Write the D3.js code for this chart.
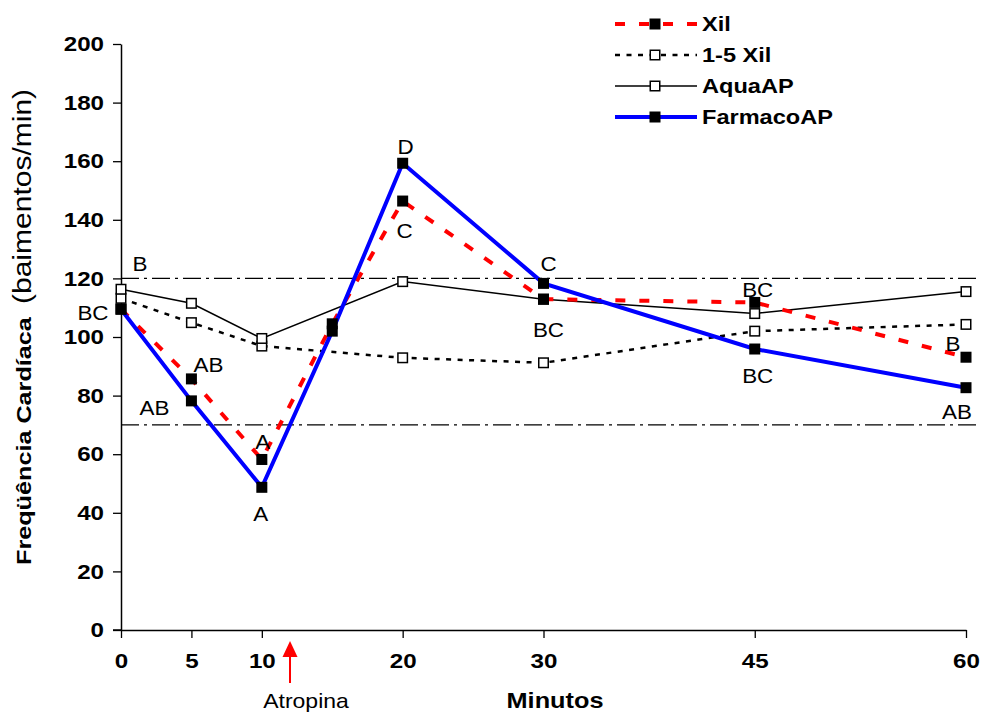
<!DOCTYPE html>
<html><head><meta charset="utf-8">
<script src="https://cdn.jsdelivr.net/npm/d3@7"></script>
<style>
body{margin:0;background:#fff;}
svg{display:block;font-family:"Liberation Sans",Arial,Helvetica,sans-serif;}
</style></head><body>
<svg id="chart" width="983" height="713"></svg>
<script>
// Heart rate (beats/min) over time for each treatment group
const minutes = [0, 5, 10, 15, 20, 30, 45, 60];
const xTickValues = [0, 5, 10, 20, 30, 45, 60];
const yTickValues = [0, 20, 40, 60, 80, 100, 120, 140, 160, 180, 200];
const xilValues = [109.5, 85.7, 58.2, 104.5, 146.4, 112.9, 111.8, 93.1];
const xil15Values = [113.2, 104.9, 96.9, null, 92.9, 91.2, 102.0, 104.3];
const aquaValues = [116.3, 111.5, 99.5, null, 118.9, 112.9, 108.0, 115.5];
const farmacoValues = [109.5, 78.2, 48.7, 102.0, 159.3, 118.3, 95.9, 82.7];
const referenceLevels = [120, 70];
const seriesNames = ["Xil", "1-5 Xil", "AquaAP", "FarmacoAP"];
// significance letters for the two drug groups
const xilLetters = ["BC", "AB", "A", "", "C", "BC", "BC", "B"];
const farmacoLetters = ["B", "AB", "A", "", "D", "C", "BC", "AB"];
const atropineMinute = 12;

// label placement around each point (pixels)
const xilLetterOffsets = [[-28, 4], [17, -14], [1, -18], [0, 0], [2, 30], [5, 31], [3, -12], [-13, -13]];
const farmacoLetterOffsets = [[19, -45], [-37, 7], [-1, 27], [0, 0], [3, -16], [5, -19], [3, 27], [-9, 24]];

const SX = 1.15; // horizontal text stretch
const svg = d3.select("#chart");
const x = d3.scaleLinear().domain([0, 60]).range([121, 966]);
const y = d3.scaleLinear().domain([0, 200]).range([630, 44]);

function stretchText(sel) {
  sel.each(function () {
    const t = d3.select(this);
    const tx = +t.attr("x") || 0, ty = +t.attr("y") || 0;
    t.attr("x", null).attr("y", null)
     .attr("transform", `translate(${tx},${ty}) scale(${SX},1)`);
  });
}

// reference levels
svg.append("g").selectAll("line").data(referenceLevels).join("line")
  .attr("x1", x(0)).attr("x2", 978)
  .attr("y1", d => y(d)).attr("y2", d => y(d))
  .attr("stroke", "#000").attr("stroke-width", 1.3)
  .attr("stroke-dasharray", "18,5,3,5");

// axes
const yAxis = svg.append("g").attr("transform", `translate(${x(0)},0)`)
  .call(d3.axisLeft(y).tickValues(yTickValues).tickSize(8).tickSizeOuter(0).tickPadding(9));
const xAxis = svg.append("g").attr("transform", `translate(0,${y(0)})`)
  .call(d3.axisBottom(x).tickValues(xTickValues).tickSize(8).tickSizeOuter(0).tickPadding(15));
[yAxis, xAxis].forEach(a => {
  a.selectAll("path.domain").attr("stroke", "#000").attr("stroke-width", 1.5);
  a.selectAll(".tick line").attr("stroke", "#000").attr("stroke-width", 1.3);
  a.selectAll(".tick text").attr("fill", "#000").attr("font-size", 21).attr("font-weight", "bold")
    .attr("font-family", '"Liberation Sans",Arial,sans-serif').call(stretchText);
});
// extend x axis line left to meet the y tick
xAxis.append("line").attr("x1", x(0) - 8).attr("x2", x(0)).attr("y1", 0).attr("y2", 0)
  .attr("stroke", "#000").attr("stroke-width", 1.5);

// series
function pts(vals) {
  return minutes.map((m, i) => ({ m, v: vals[i] })).filter(d => d.v !== null);
}
const line = d3.line().x(d => x(d.m)).y(d => y(d.v));
const series = [
  { name: seriesNames[1], data: pts(xil15Values), color: "#000", width: 2.5, dash: "5,6.5", filled: false },
  { name: seriesNames[2], data: pts(aquaValues), color: "#000", width: 1.5, dash: null, filled: false },
  { name: seriesNames[0], data: pts(xilValues), color: "#ff0000", width: 4, dash: "10,14", filled: true },
  { name: seriesNames[3], data: pts(farmacoValues), color: "#0000ff", width: 4, dash: null, filled: true }
];
const plot = svg.append("g");
series.forEach(s => {
  plot.append("path").datum(s.data).attr("d", line)
    .attr("fill", "none").attr("stroke", s.color).attr("stroke-width", s.width)
    .attr("stroke-dasharray", s.dash);
});
function marker(g, filled) {
  if (filled) {
    g.append("rect").attr("x", -5.5).attr("y", -5.5).attr("width", 11).attr("height", 11).attr("fill", "#000");
  } else {
    g.append("rect").attr("x", -4.75).attr("y", -4.75).attr("width", 9.5).attr("height", 9.5)
      .attr("fill", "#fff").attr("stroke", "#000").attr("stroke-width", 1.5);
  }
}
series.forEach(s => {
  s.data.forEach(d => {
    const g = plot.append("g").attr("transform", `translate(${x(d.m)},${y(d.v)})`);
    marker(g, s.filled);
  });
});

// letters
const letterG = svg.append("g").attr("font-size", 19.5).attr("fill", "#000");
function letters(vals, labels, offs) {
  minutes.forEach((m, i) => {
    if (!labels[i]) return;
    letterG.append("text")
      .attr("transform", `translate(${x(m) + offs[i][0]},${y(vals[i]) + offs[i][1]}) scale(${SX},1)`)
      .attr("text-anchor", "middle").attr("dy", "0.36em").text(labels[i]);
  });
}
letters(xilValues, xilLetters, xilLetterOffsets);
letters(farmacoValues, farmacoLetters, farmacoLetterOffsets);

// legend
const legendStyles = [series[2], series[0], series[1], series[3]];
const legend = svg.append("g");
legendStyles.forEach((s, i) => {
  const ly = 24 + i * 31;
  legend.append("line").attr("x1", 615).attr("x2", 697).attr("y1", ly).attr("y2", ly)
    .attr("stroke", s.color).attr("stroke-width", s.width).attr("stroke-dasharray", s.dash);
  marker(legend.append("g").attr("transform", `translate(655,${ly})`), s.filled);
  legend.append("text").attr("transform", `translate(702,${ly}) scale(${SX},1)`)
    .attr("dy", "0.36em").attr("font-size", 20.5).attr("font-weight", "bold").text(s.name);
});

// axis titles
svg.append("text").attr("transform", `translate(555,700) scale(${SX},1)`)
  .attr("text-anchor", "middle").attr("dy", "0.36em")
  .attr("font-size", 22).attr("font-weight", "bold").text("Minutos");
const yt = svg.append("text").attr("transform", "translate(31,565) rotate(-90) scale(1.2,1)")
  .attr("text-anchor", "start");
yt.append("tspan").attr("font-weight", "bold").attr("font-size", 21).text("Freqüência Cardíaca");
yt.append("tspan").attr("dx", 11).attr("font-size", 25).text("(baimentos/min)");

// atropine injection marker
const ax = x(atropineMinute);
svg.append("line").attr("x1", ax).attr("x2", ax).attr("y1", 683).attr("y2", 655)
  .attr("stroke", "#ff0000").attr("stroke-width", 2);
svg.append("path").attr("d", `M${ax},641 L${ax - 7.5},657 L${ax + 7.5},657 Z`).attr("fill", "#ff0000");
svg.append("text").attr("transform", `translate(${ax + 16},701) scale(${SX},1)`)
  .attr("text-anchor", "middle").attr("dy", "0.36em").attr("font-size", 20).text("Atropina");
</script>
</body></html>
